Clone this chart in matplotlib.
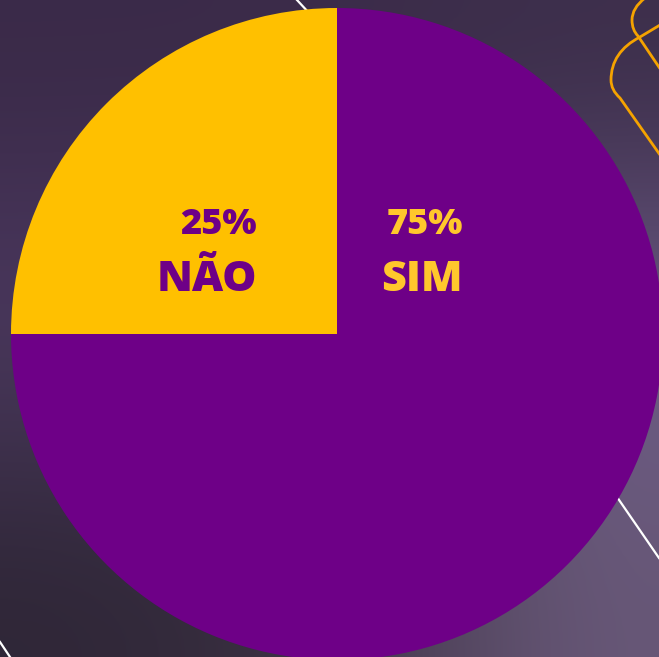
import matplotlib
matplotlib.use("Agg")
import matplotlib.pyplot as plt
import numpy as np
from matplotlib.colors import to_rgb
from matplotlib.path import Path
from matplotlib.patches import PathPatch

labels = ["NÃO", "SIM"]
shares = [25, 75]
pie_colors = ["#FFC000", "#6E0087"]
text_colors = ["#6E0087", "#FFC72C"]

W, H = 659, 657
fig = plt.figure(figsize=(W / 100, H / 100), dpi=100)

# background: soft gradient like the photo behind the chart
bg = fig.add_axes([0, 0, 1, 1])
bg.set_xlim(0, W)
bg.set_ylim(H, 0)
bg.axis("off")
grid = [["#3a2a48", "#3a2a48", "#3c2e4a"],
        ["#4f3b64", "#55456a", "#715f8b"],
        ["#2e2636", "#3a3040", "#685878"]]
img = np.array([[to_rgb(c) for c in row] for row in grid])
bg.imshow(img, extent=[0, W, H, 0], interpolation="bicubic", aspect="auto", zorder=0)

# thin white lines
bg.plot([297, 310], [0, 14], color="white", lw=1.6, zorder=1)
bg.plot([617, 659], [497, 558], color="white", lw=1.6, zorder=1)
bg.plot([0, 10], [642, 657], color="white", lw=1.6, zorder=1)

# orange outlines in the top right corner
orange = "#F5A300"
verts_a = [(665, 22), (640, 37), (611, 52), (611, 80), (611, 90), (620, 98), (665, 162)]
codes_a = [Path.MOVETO, Path.LINETO, Path.CURVE3, Path.CURVE3, Path.CURVE3, Path.CURVE3, Path.LINETO]
bg.add_patch(PathPatch(Path(verts_a, codes_a), fill=False, ec=orange, lw=2, zorder=1))
verts_b = [(645, -2), (632, 8), (632, 20), (632, 30), (638, 36), (665, 76)]
codes_b = [Path.MOVETO, Path.CURVE3, Path.CURVE3, Path.CURVE3, Path.CURVE3, Path.LINETO]
bg.add_patch(PathPatch(Path(verts_b, codes_b), fill=False, ec=orange, lw=2, zorder=1))

# pie
ax = fig.add_axes([11 / W, (H - 660) / H, 652 / W, 652 / H])
ax.pie(shares, colors=pie_colors, startangle=90, counterclock=True,
       wedgeprops=dict(linewidth=0))
ax.set_xlim(-1, 1)
ax.set_ylim(-1, 1)
ax.axis("off")

# labels on top of everything (figure coordinates from pixel positions)
pos_x = [257, 463]
for i, lab in enumerate(labels):
    fig.text(pos_x[i] / W, 1 - 225 / H, f"{shares[i]}%", color=text_colors[i],
             fontsize=26, fontweight="heavy", family="Open Sans",
             ha="right", va="center")
    fig.text(pos_x[i] / W, 1 - 280 / H, lab, color=text_colors[i],
             fontsize=31, fontweight="heavy", family="Open Sans",
             ha="right", va="center")

fig.savefig("out.png", dpi=100)
